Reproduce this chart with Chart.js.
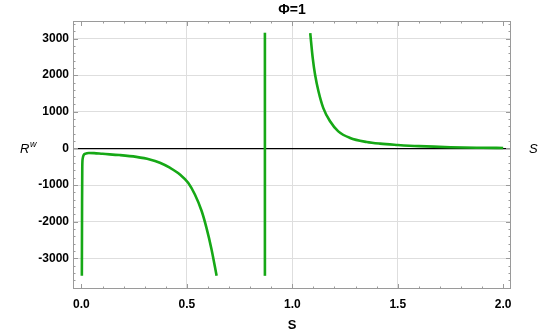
<!DOCTYPE html>
<html>
<head>
<meta charset="utf-8">
<script src="https://cdn.jsdelivr.net/npm/chart.js@4.4.1/dist/chart.umd.min.js"></script>
<style>
  html, body { margin: 0; padding: 0; background: #fff; }
  #wrap { width: 540px; height: 336px; }
</style>
</head>
<body>
<div id="wrap"><canvas id="plot"></canvas></div>
<script>
// values
var sLeft  = [0.002, 0.003, 0.004, 0.006, 0.010, 0.020, 0.035, 0.060, 0.100, 0.180, 0.260, 0.324, 0.372, 0.419, 0.467, 0.506, 0.538, 0.570, 0.593, 0.617, 0.641];
var rLeft  = [-3480, -1500, -500, -280, -190, -140, -125, -128, -148, -182, -232, -300, -390, -525, -710, -940, -1260, -1710, -2170, -2760, -3480];
var sMid   = [0.870, 0.870];
var rMid   = [-3480, 3160];
var sRight = [1.085, 1.097, 1.108, 1.124, 1.147, 1.179, 1.218, 1.274, 1.353, 1.416, 1.500, 1.600, 1.750, 1.900, 2.000];
var rRight = [3150, 2460, 2010, 1560, 1100, 740, 465, 285, 175, 130, 95, 62, 32, 18, 12];

var xTicks = [0, 0.5, 1, 1.5, 2];
var yTicks = [-3000, -2000, -1000, 0, 1000, 2000, 3000];
var xMinorStep = 0.1;
var yMinorStep = 200;

var green = '#16a816';
var fontFam = '"Liberation Sans", Arial, sans-serif';

function pts(xs, ys) {
  return xs.map(function (x, i) { return { x: x, y: ys[i] }; });
}

function branch(xs, ys) {
  return {
    data: pts(xs, ys),
    showLine: true,
    borderColor: green,
    borderWidth: 2.6,
    pointRadius: 0,
    cubicInterpolationMode: 'monotone'
  };
}

Chart.defaults.font.family = fontFam;
Chart.defaults.color = '#000';

// frame with inward ticks, the title and the axis labels with a superscript
var framePlugin = {
  id: 'frame',
  afterDatasetsDraw: function (chart) {
    var ctx = chart.ctx, a = chart.chartArea;
    var xs = chart.scales.x, ys = chart.scales.y;
    ctx.save();
    ctx.strokeStyle = '#9a9a9a';
    ctx.lineWidth = 1;
    ctx.strokeRect(a.left + 0.5, a.top + 0.5, a.right - a.left - 1, a.bottom - a.top - 1);
    ctx.beginPath();
    var v, p, len;
    for (v = Math.ceil(xs.min / xMinorStep) * xMinorStep; v <= xs.max + 1e-9; v += xMinorStep) {
      p = Math.round(xs.getPixelForValue(v)) + 0.5;
      len = Math.abs(v / 0.5 - Math.round(v / 0.5)) < 1e-6 ? 5 : 2.5;
      ctx.moveTo(p, a.bottom); ctx.lineTo(p, a.bottom - len);
      ctx.moveTo(p, a.top); ctx.lineTo(p, a.top + len);
    }
    for (v = Math.ceil(ys.min / yMinorStep) * yMinorStep; v <= ys.max; v += yMinorStep) {
      p = Math.round(ys.getPixelForValue(v)) + 0.5;
      len = v % 1000 === 0 ? 5 : 2.5;
      ctx.moveTo(a.left, p); ctx.lineTo(a.left + len, p);
      ctx.moveTo(a.right, p); ctx.lineTo(a.right - len, p);
    }
    ctx.stroke();

    ctx.fillStyle = '#000';
    ctx.textBaseline = 'middle';
    ctx.textAlign = 'center';
    ctx.font = 'bold 14px ' + fontFam;
    ctx.fillText('Φ=1', (a.left + a.right) / 2, 10);

    var y0 = ys.getPixelForValue(0);
    ctx.textAlign = 'left';
    ctx.font = 'italic 13px ' + fontFam;
    ctx.fillText('R', 20, y0 + 1);
    var rw = ctx.measureText('R').width;
    ctx.font = 'italic 9px ' + fontFam;
    ctx.fillText('w', 20 + rw + 0.5, y0 - 4);
    ctx.font = 'italic 13px ' + fontFam;
    ctx.fillText('S', 529, y0 + 1);
    ctx.restore();
  }
};

new Chart(document.getElementById('plot'), {
  type: 'scatter',
  data: {
    datasets: [branch(sLeft, rLeft), branch(sMid, rMid), branch(sRight, rRight)]
  },
  options: {
    responsive: true,
    maintainAspectRatio: false,
    animation: false,
    layout: { padding: { left: 0, right: 29, top: 21, bottom: 0 } },
    plugins: {
      legend: { display: false },
      tooltip: { enabled: false },
      title: { display: false }
    },
    scales: {
      x: {
        type: 'linear',
        min: -0.04,
        max: 2.037,
        afterBuildTicks: function (scale) {
          scale.ticks = xTicks.map(function (v) { return { value: v }; });
        },
        afterFit: function (scale) { scale.height = 47; },
        border: { display: false },
        grid: {
          drawTicks: false,
          color: function (c) {
            var v = c.tick && c.tick.value;
            return (v === 0 || v === 2) ? 'rgba(0,0,0,0)' : '#dedede';
          }
        },
        ticks: {
          padding: 8,
          font: { size: 12, weight: 'bold' },
          callback: function (v) { return v.toFixed(1); }
        },
        title: {
          display: true,
          text: 'S',
          font: { size: 13, weight: 'bold' },
          padding: { top: 0, bottom: 3 }
        }
      },
      y: {
        type: 'linear',
        min: -3840,
        max: 3480,
        afterBuildTicks: function (scale) {
          scale.ticks = yTicks.map(function (v) { return { value: v }; });
        },
        afterFit: function (scale) { scale.width = 73; },
        border: { display: false },
        grid: {
          drawTicks: false,
          color: function (c) {
            return (c.tick && c.tick.value === 0) ? '#000' : '#dedede';
          },
          lineWidth: function (c) {
            return (c.tick && c.tick.value === 0) ? 1.2 : 1;
          }
        },
        ticks: {
          padding: 4,
          font: { size: 12, weight: 'bold' },
          callback: function (v) { return String(v); }
        }
      }
    }
  },
  plugins: [framePlugin]
});
</script>
</body>
</html>
